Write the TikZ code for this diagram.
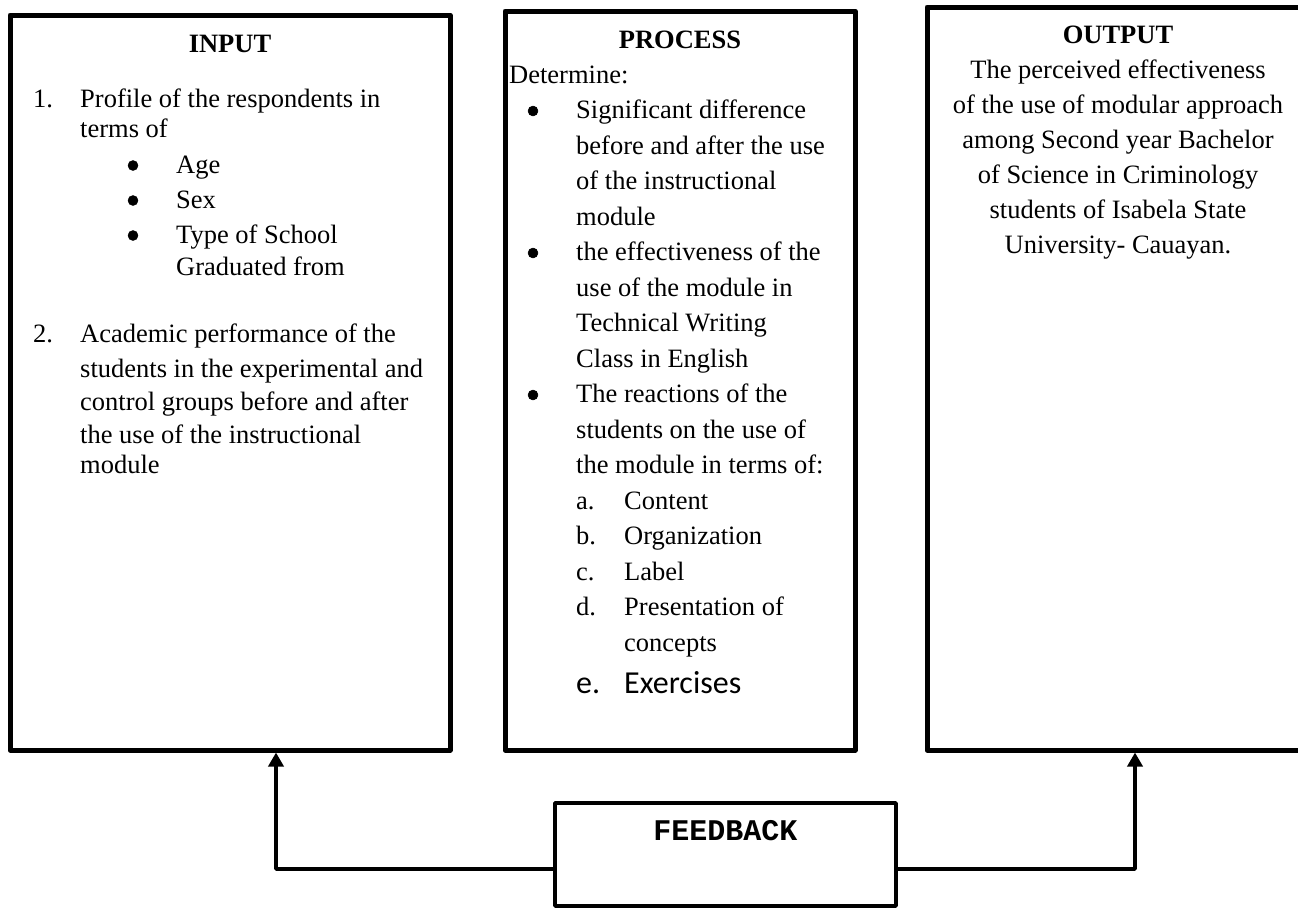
\documentclass[tikz,border=0pt]{standalone}
\usepackage{fontspec}
\setmainfont{Liberation Serif}
\newfontfamily\calibrifont{Carlito}
\newfontfamily\courierfont{Liberation Mono}
\usetikzlibrary{arrows.meta,calc}

\begin{document}
\begin{tikzpicture}[x=1pt, y=-1pt, line join=round,
  bigbox/.style={draw, line width=5pt, inner sep=0pt},
  fbbox/.style={draw, line width=3.5pt, inner sep=0pt},
  txt/.style={anchor=base west, inner sep=0pt, font=\fontsize{26.5}{32}\selectfont},
  bul/.style={circle, draw=black, fill=black, line width=0.5pt, inner sep=0pt, minimum size=10pt, yshift=7.5pt},
  ctr/.style={anchor=base, inner sep=0pt, font=\fontsize{26.5}{32}\selectfont},
  head/.style={ctr, font=\fontsize{26.5}{32}\selectfont\bfseries},
  fbarrow/.style={line width=3.5pt, -{Triangle[width=15pt,length=14pt]}}]
	\useasboundingbox (0,0) rectangle (1298,908);

	% 1. The three big boxes and the feedback box
	\node[bigbox, minimum width=440pt, minimum height=735pt] (input) at (230,382.5) {};
	\node[bigbox, minimum width=350pt, minimum height=739pt] (process) at (680,380.5) {};
	\node[bigbox, minimum width=382pt, minimum height=743pt] (output) at (1118,378.5) {};
	\node[fbbox, minimum width=341pt, minimum height=103pt] (feedback) at (725.5,854.5) {};

	% 2. INPUT text
	\node[head] (inhead) at (230,52) {INPUT};
	\node[txt] (in1) at (33,107) {1.};
	\node[txt] (in1a) at (80,107) {Profile of the respondents in};
	\node[txt] (in1b) at (80,137) {terms of};
	\node[bul] (inb1) at (133,173) {};
	\node[txt] (inage) at (176,173) {Age};
	\node[bul] (inb2) at (133,208) {};
	\node[txt] (insex) at (176,208) {Sex};
	\node[bul] (inb3) at (133,243) {};
	\node[txt] (intype) at (176,243) {Type of School};
	\node[txt] (ingrad) at (176,275) {Graduated from};
	\node[txt] (in2) at (33,342) {2.};
	\node[txt] (in2a) at (80,342) {Academic performance of the};
	\node[txt] (in2b) at (80,377) {students in the experimental and};
	\node[txt] (in2c) at (80,410) {control groups before and after};
	\node[txt] (in2d) at (80,443) {the use of the instructional};
	\node[txt] (in2e) at (80,473) {module};

	% 3. PROCESS text
	\node[head] (prhead) at (680,48) {PROCESS};
	\node[txt] (prdet) at (509,83) {Determine:};
	\node[bul] (prb1) at (533,118.5) {};
	\node[txt] (pr1a) at (576,118.5) {Significant difference};
	\node[txt] (pr1b) at (576,154) {before and after the use};
	\node[txt] (pr1c) at (576,189.5) {of the instructional};
	\node[txt] (pr1d) at (576,225) {module};
	\node[bul] (prb2) at (533,260.5) {};
	\node[txt] (pr2a) at (576,260.5) {the effectiveness of the};
	\node[txt] (pr2b) at (576,296) {use of the module in};
	\node[txt] (pr2c) at (576,331.5) {Technical Writing};
	\node[txt] (pr2d) at (576,367) {Class in English};
	\node[bul] (prb3) at (533,402.5) {};
	\node[txt] (pr3a) at (576,402.5) {The reactions of the};
	\node[txt] (pr3b) at (576,438) {students on the use of};
	\node[txt] (pr3c) at (576,473.5) {the module in terms of:};
	\node[txt] (pra) at (576,509) {a.};
	\node[txt] (prcont) at (624,509) {Content};
	\node[txt] (prb) at (576,544.5) {b.};
	\node[txt] (prorg) at (624,544.5) {Organization};
	\node[txt] (prc) at (576,580) {c.};
	\node[txt] (prlab) at (624,580) {Label};
	\node[txt] (prd) at (576,615.5) {d.};
	\node[txt] (prpres) at (624,615.5) {Presentation of};
	\node[txt] (prconc) at (624,651) {concepts};
	\node[txt, font=\fontsize{32}{38}\calibrifont] (pre) at (576,693) {e.};
	\node[txt, font=\fontsize{32}{38}\calibrifont] (prex) at (624,693) {Exercises};

	% 4. OUTPUT text
	\node[head] (outhead) at (1118,43) {OUTPUT};
	\node[ctr] (out1) at (1118,78) {The perceived effectiveness};
	\node[ctr] (out2) at (1118,113) {of the use of modular approach};
	\node[ctr] (out3) at (1118,148) {among Second year Bachelor};
	\node[ctr] (out4) at (1118,183) {of Science in Criminology};
	\node[ctr] (out5) at (1118,218) {students of Isabela State};
	\node[ctr] (out6) at (1118,253) {University- Cauayan.};

	% 5. FEEDBACK and its two arrows
	\node[anchor=base, inner sep=0pt, font=\fontsize{30}{36}\courierfont\bfseries] (fbtext) at (725.5,840) {FEEDBACK};
	\draw[fbarrow] ([yshift=-14.5pt]feedback.west) -| ([xshift=46pt]input.south);
	\draw[fbarrow] ([yshift=-14.5pt]feedback.east) -| ([xshift=17pt]output.south);
\end{tikzpicture}
\end{document}
